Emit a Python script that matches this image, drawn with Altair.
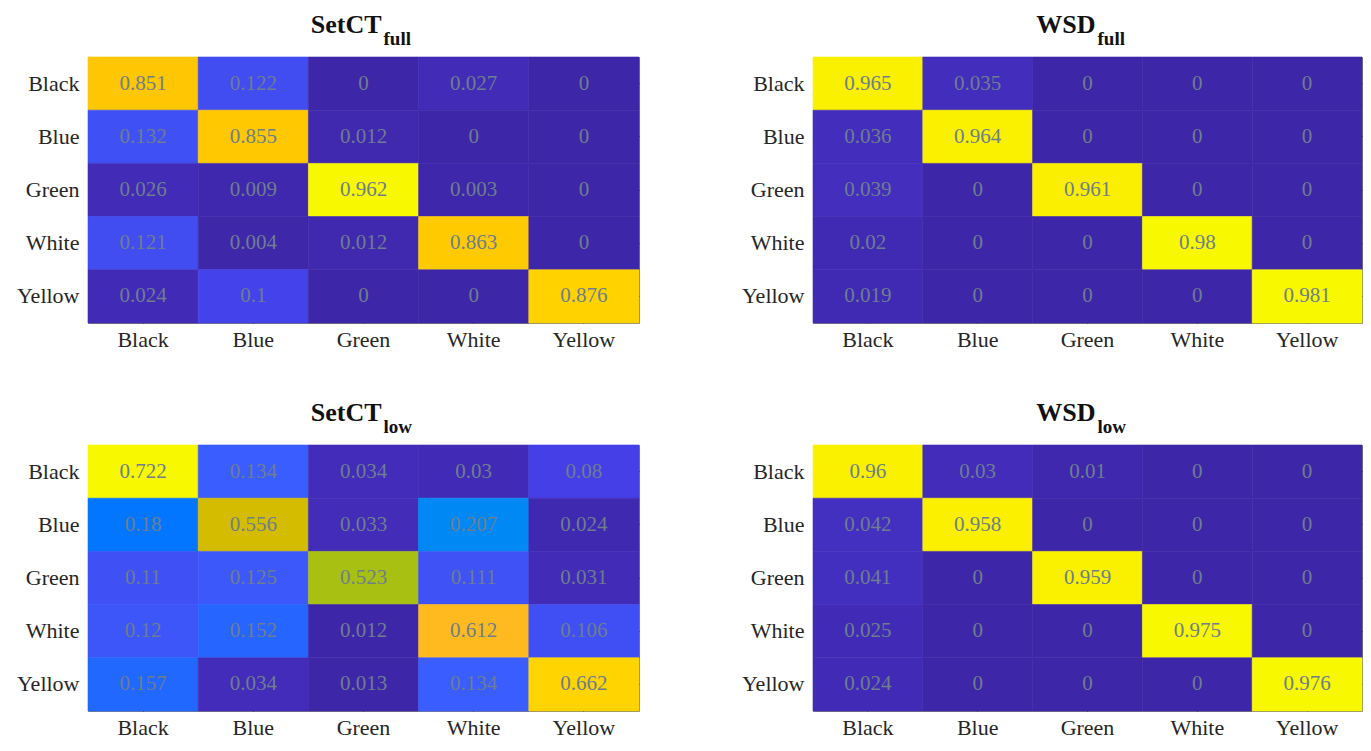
import altair as alt
import pandas as pd

labels = ["Black", "Blue", "Green", "White", "Yellow"]

setct_full = [
    [0.851, 0.122, 0, 0.027, 0],
    [0.132, 0.855, 0.012, 0, 0],
    [0.026, 0.009, 0.962, 0.003, 0],
    [0.121, 0.004, 0.012, 0.863, 0],
    [0.024, 0.1, 0, 0, 0.876],
]
wsd_full = [
    [0.965, 0.035, 0, 0, 0],
    [0.036, 0.964, 0, 0, 0],
    [0.039, 0, 0.961, 0, 0],
    [0.02, 0, 0, 0.98, 0],
    [0.019, 0, 0, 0, 0.981],
]
setct_low = [
    [0.722, 0.134, 0.034, 0.03, 0.08],
    [0.18, 0.556, 0.033, 0.207, 0.024],
    [0.11, 0.125, 0.523, 0.111, 0.031],
    [0.12, 0.152, 0.012, 0.612, 0.106],
    [0.157, 0.034, 0.013, 0.134, 0.662],
]
wsd_low = [
    [0.96, 0.03, 0.01, 0, 0],
    [0.042, 0.958, 0, 0, 0],
    [0.041, 0, 0.959, 0, 0],
    [0.025, 0, 0, 0.975, 0],
    [0.024, 0, 0, 0, 0.976],
]

# parula-like colormap stops as seen in the reference
cmap_t = [0.0, 0.04, 0.10, 0.14, 0.17, 0.20, 0.24, 0.275, 0.35, 0.45, 0.55, 0.64, 0.72, 0.77, 0.845, 0.89, 0.92, 1.0]
cmap_c = ["#3E26A8", "#432EBE", "#4440EA", "#3F52F5", "#3A5CFF", "#2466FF", "#0078FF", "#0088F5",
          "#0AA5E0", "#20B8B0", "#50C080", "#8CC040", "#A8C012", "#D8BC00", "#FFBA20", "#FFC800",
          "#FFD600", "#F8F800"]

H = 266
FONT = "Liberation Serif"


def panel(mat, main, sub, main_off, w):
    rows = []
    for i, t in enumerate(labels):
        for j, p in enumerate(labels):
            rows.append({"true": t, "pred": p, "v": mat[i][j], "lbl": f"{mat[i][j]:g}"})
    df = pd.DataFrame(rows)
    mn, mx = float(df["v"].min()), float(df["v"].max())
    dom = [mn + t * (mx - mn) for t in cmap_t]
    cscale = alt.Scale(domain=dom, range=cmap_c, interpolate="rgb")

    xb = alt.X("pred:N", sort=labels, title=None,
               scale=alt.Scale(paddingInner=0, paddingOuter=0),
               axis=alt.Axis(orient="bottom", offset=-5, labelPadding=6, labelAngle=0))
    yl = alt.Y("true:N", sort=labels, title=None,
               scale=alt.Scale(paddingInner=0, paddingOuter=0),
               axis=alt.Axis(orient="left", offset=-5, labelPadding=9))
    rect = alt.Chart(df).mark_rect(strokeWidth=0.6).encode(
        x=xb, y=yl,
        color=alt.Color("v:Q", legend=None, scale=cscale),
        stroke=alt.Stroke("v:Q", legend=None, scale=cscale),
    )
    txt = alt.Chart(df).mark_text(font=FONT, fontSize=21, color="#6E7E8E").encode(
        x=alt.X("pred:N", sort=labels, title=None,
                axis=alt.Axis(orient="top", offset=-5, labels=False)),
        y=alt.Y("true:N", sort=labels, title=None,
                axis=alt.Axis(orient="right", offset=-5, labels=False)),
        text="lbl:N",
    )
    t1 = alt.Chart(pd.DataFrame({"t": [main]})).mark_text(
        font=FONT, fontSize=26, fontWeight="bold", align="right", baseline="alphabetic", color="#111111"
    ).encode(x=alt.value(w / 2 + main_off), y=alt.value(-24), text="t:N")
    t2 = alt.Chart(pd.DataFrame({"t": [sub]})).mark_text(
        font=FONT, fontSize=19, fontWeight="bold", align="left", baseline="alphabetic", color="#111111"
    ).encode(x=alt.value(w / 2 + main_off + 2), y=alt.value(-12), text="t:N")
    return alt.layer(rect, txt, t1, t2).properties(width=w, height=H)


p1 = panel(setct_full, "SetCT", "full", 18, 551)
p2 = panel(wsd_full, "WSD", "full", 8, 549)
p3 = panel(setct_low, "SetCT", "low", 18, 551)
p4 = panel(wsd_low, "WSD", "low", 8, 549)

chart = alt.vconcat(
    alt.hconcat(p1, p2, spacing=100).resolve_scale(color="independent", stroke="independent"),
    alt.hconcat(p3, p4, spacing=100).resolve_scale(color="independent", stroke="independent"),
    spacing=48,
).resolve_scale(color="independent", stroke="independent").configure_view(
    stroke="#7F7F7F", strokeWidth=1
).configure_axis(
    labelFont=FONT, labelFontSize=22, labelColor="#262626", tickColor="#262626",
    tickSize=5, domain=False, grid=False, zindex=1,
).properties(background="white", padding={"left": 7, "top": 3, "right": 0, "bottom": 0})

chart.save("out.html", embed_options={"renderer": "svg", "actions": False})
